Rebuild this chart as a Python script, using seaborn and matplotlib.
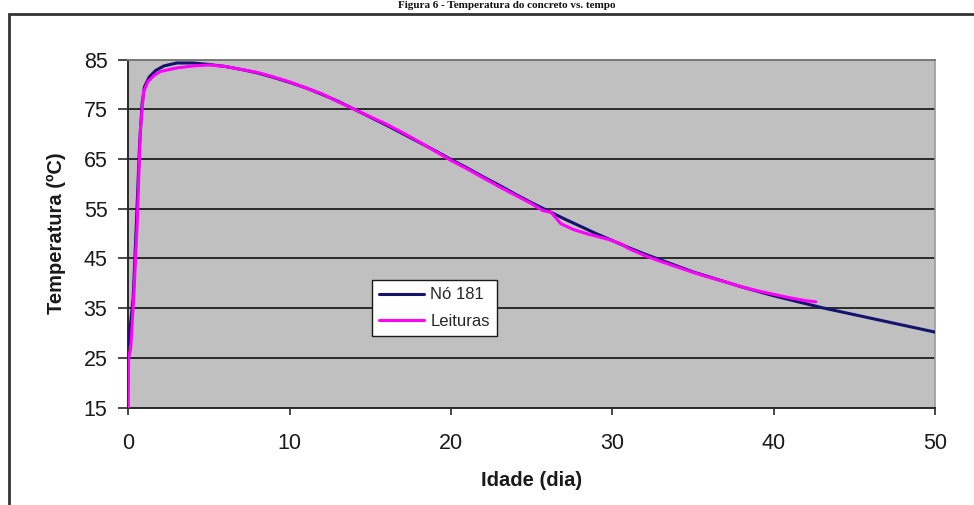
import matplotlib
matplotlib.use("Agg")
import matplotlib.pyplot as plt
import seaborn as sns
import numpy as np
from matplotlib.patches import Rectangle

# ---- data ----
no181_dias = [0, 0.3, 0.5, 0.7, 0.85, 1.0, 1.3, 1.7, 2.2, 3.0, 4.0, 5.0, 6.0, 7.0, 8.0, 9.0,
              10.0, 11.0, 12.0, 13.0, 14.0, 15.0, 16.0, 17.0, 18.0, 19.0, 20.0, 21.0, 22.0,
              23.0, 24.0, 25.0, 26.0, 27.0, 28.0, 29.0, 30.0, 31.0, 32.0, 33.0, 34.0, 35.0,
              36.0, 37.0, 38.0, 39.0, 40.0, 41.0, 42.0, 43.0, 44.0, 45.0, 46.0, 47.0, 48.0,
              49.0, 50.0]
no181_temp = [27.5, 37.0, 52.0, 68.0, 76.0, 79.5, 81.5, 82.8, 83.7, 84.3, 84.3, 84.0, 83.6,
              83.0, 82.3, 81.4, 80.4, 79.3, 78.0, 76.6, 75.0, 73.4, 71.8, 70.1, 68.4, 66.7,
              64.9, 63.2, 61.4, 59.7, 57.9, 56.2, 54.6, 53.0, 51.5, 50.0, 48.6, 47.2, 45.9,
              44.7, 43.5, 42.3, 41.3, 40.3, 39.3, 38.4, 37.5, 36.7, 35.9, 35.1, 34.4, 33.7,
              33.0, 32.3, 31.6, 30.9, 30.2]

leit_dias = [0, 0.02, 0.15, 0.35, 0.55, 0.75, 0.95, 1.2, 1.6, 2.0, 3.0, 4.0, 5.0, 6.0, 7.0,
             8.0, 9.0, 10.0, 11.0, 12.0, 13.0, 14.0, 15.0, 16.0, 17.0, 18.0, 19.0, 20.0, 21.0,
             22.0, 23.0, 24.0, 25.0, 25.7, 26.2, 26.8, 27.6, 28.5, 29.8, 30.5, 31.0, 32.0,
             33.0, 34.0, 35.0, 36.0, 37.0, 38.0, 39.0, 40.0, 41.0, 42.0, 42.6]
leit_temp = [15.0, 25.0, 27.0, 38.0, 52.0, 71.0, 78.5, 80.5, 81.8, 82.6, 83.3, 83.7, 83.9,
             83.6, 83.0, 82.4, 81.5, 80.5, 79.3, 78.1, 76.5, 75.0, 73.5, 72.0, 70.3, 68.5,
             66.6, 64.7, 63.0, 61.2, 59.4, 57.7, 56.0, 54.6, 54.3, 52.0, 50.8, 49.9, 48.8,
             48.0, 47.0, 45.6, 44.4, 43.3, 42.2, 41.2, 40.3, 39.3, 38.5, 37.8, 37.1, 36.5,
             36.3]

y_ticks = [15, 25, 35, 45, 55, 65, 75, 85]
x_ticks = [0, 10, 20, 30, 40, 50]

sns.set_theme(style="white")
plt.rcParams['font.family'] = ['Liberation Sans', 'DejaVu Sans']

W, H = 974, 505
fig = plt.figure(figsize=(W / 100, H / 100), dpi=100)
left, right, top, bottom = 128.3, 935, 59.5, 407.7
ax = fig.add_axes([left / W, 1 - bottom / H, (right - left) / W, (bottom - top) / H])
ax.set_facecolor('#C0C0C0')

sns.lineplot(x=no181_dias, y=no181_temp, ax=ax, color='#14136e', linewidth=2.2,
             label='Nó 181', sort=False, zorder=3)
sns.lineplot(x=leit_dias, y=leit_temp, ax=ax, color='#FF00FF', linewidth=2.2,
             label='Leituras', sort=False, zorder=4)

ax.set_xlim(0, 50)
ax.set_ylim(15, 85)
ax.set_xticks(x_ticks)
ax.set_yticks(y_ticks)
ax.set_xticklabels([str(v) for v in x_ticks])
ax.set_yticklabels([str(v) for v in y_ticks])

ax.yaxis.grid(True, color='#2a2a2a', linewidth=1.4)
ax.xaxis.grid(False)
ax.set_axisbelow(True)

for s in ['left', 'bottom']:
    ax.spines[s].set_color('#2a2a2a')
    ax.spines[s].set_linewidth(1.4)
ax.spines['top'].set_color('#7a7a7a')
ax.spines['top'].set_linewidth(1.4)
ax.spines['right'].set_color('#9a9a9a')
ax.spines['right'].set_linewidth(1.2)

ax.tick_params(axis='y', which='major', direction='out', length=7, width=1.2,
               color='#2a2a2a', pad=8, labelsize=15.5, left=True, labelcolor='#1a1a1a')
ax.tick_params(axis='x', which='major', direction='out', length=5.3, width=1.2,
               color='#2a2a2a', pad=13, labelsize=15.5, bottom=True, labelcolor='#1a1a1a')

ax.set_xlabel('Idade (dia)', fontsize=14.5, fontweight='bold', color='#1a1a1a', labelpad=12)
ax.set_ylabel('Temperatura (ºC)', fontsize=14.5, fontweight='bold', color='#1a1a1a', labelpad=13)

leg = ax.legend(loc='upper left', bbox_to_anchor=(0.302, 0.367), borderaxespad=0,
                fancybox=False, frameon=True, fontsize=12, handlelength=2.7,
                handletextpad=0.35, borderpad=0.45, labelspacing=0.68)
leg.get_frame().set_edgecolor('#1a1a1a')
leg.get_frame().set_linewidth(1.0)
leg.get_frame().set_facecolor('white')
leg.get_frame().set_alpha(1)

# outer frame of the figure (left and top edges visible)
fig.patches.append(Rectangle((9 / W, -0.05), 1.2, 1 - 14 / H + 0.05, transform=fig.transFigure,
                             fill=False, edgecolor='#333333', linewidth=2.0))

# caption at the top
fig.text(0.52, 1 - 1 / H, 'Figura 6 - Temperatura do concreto vs. tempo',
         ha='center', va='top', fontsize=8, fontweight='bold',
         family=['Liberation Serif', 'DejaVu Serif'], color='#111111')

fig.savefig('out.png', dpi=100)
